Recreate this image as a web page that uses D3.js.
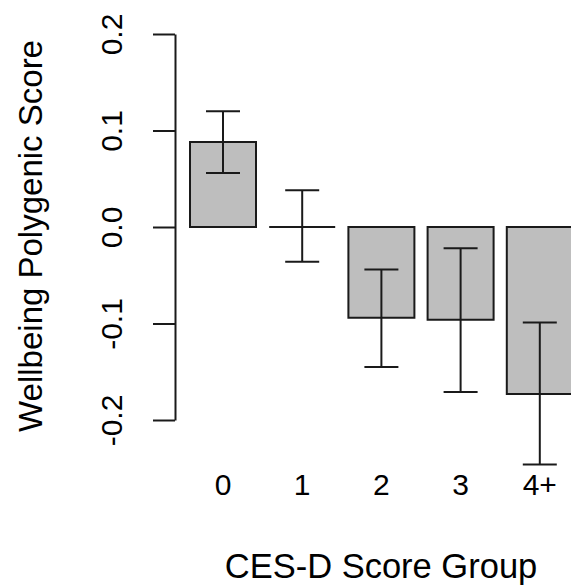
<!DOCTYPE html>
<html>
<head>
<meta charset="utf-8">
<script src="https://cdn.jsdelivr.net/npm/d3@7"></script>
<style>
  html, body { margin: 0; padding: 0; background: #fff; }
  svg { display: block; font-family: "Liberation Sans", Arial, sans-serif; }
</style>
</head>
<body>
<div id="chart"></div>
<script>
// CES-D groups vs wellbeing polygenic score (mean ± error)
const GROUPS = ["0", "1", "2", "3", "4+"];
const MEANS  = [0.088, 0.000, -0.094, -0.096, -0.173];
const LOWER  = [0.056, -0.036, -0.145, -0.171, -0.246];
const UPPER  = [0.120, 0.038, -0.044, -0.022, -0.099];
const Y_TICKS = [-0.2, -0.1, 0.0, 0.1, 0.2];

const data = GROUPS.map((g, i) => ({ group: g, mean: MEANS[i], lo: LOWER[i], hi: UPPER[i] }));

const totalW = 571, totalH = 586;
const INK = "#1a1a1a";

const svg = d3.select("#chart").append("svg")
  .attr("width", totalW).attr("height", totalH);

/* ── Scales ── */
const y = d3.scaleLinear().domain([-0.2, 0.2]).range([420, 34]);
const x = d3.scaleBand().domain(GROUPS)
  .range([190, 572.8]).paddingInner(0.2 / 1.2).paddingOuter(0);

/* ── Bars (path so the zero-height bar still shows as a line) ── */
svg.append("g").selectAll("path")
  .data(data)
  .join("path")
  .attr("d", d => {
    const x0 = x(d.group), x1 = x0 + x.bandwidth();
    const y0 = y(0), y1 = y(d.mean);
    return `M${x0},${y0}H${x1}V${y1}H${x0}Z`;
  })
  .attr("fill", "#bebebe")
  .attr("stroke", INK)
  .attr("stroke-width", 2);

/* ── Error bars ── */
const cap = 17;
const eb = svg.append("g").attr("stroke", INK).attr("stroke-width", 2).attr("fill", "none");
data.forEach(d => {
  const cx = x(d.group) + x.bandwidth() / 2;
  eb.append("line").attr("x1", cx).attr("x2", cx).attr("y1", y(d.lo)).attr("y2", y(d.hi));
  eb.append("line").attr("x1", cx - cap).attr("x2", cx + cap).attr("y1", y(d.lo)).attr("y2", y(d.lo));
  eb.append("line").attr("x1", cx - cap).attr("x2", cx + cap).attr("y1", y(d.hi)).attr("y2", y(d.hi));
});

/* ── Y axis ── */
const yAxis = svg.append("g").attr("transform", "translate(175,0)")
  .call(d3.axisLeft(y).tickValues(Y_TICKS).tickSize(22).tickSizeOuter(0)
    .tickFormat(d3.format(".1f")));
yAxis.select(".domain").attr("stroke", INK).attr("stroke-width", 2);
yAxis.selectAll(".tick line").attr("stroke", INK).attr("stroke-width", 2);
yAxis.selectAll(".tick text")
  .attr("x", null).attr("dy", null)
  .attr("transform", "translate(-53,0) rotate(-90)")
  .attr("text-anchor", "middle")
  .attr("font-size", 30)
  .attr("fill", "#000")
  .text(d => d3.format(".1f")(d).replace("−", "-"));

/* ── X tick labels ── */
svg.append("g").selectAll("text")
  .data(GROUPS)
  .join("text")
  .attr("x", d => x(d) + x.bandwidth() / 2)
  .attr("y", 495)
  .attr("text-anchor", "middle")
  .attr("font-size", 30)
  .attr("fill", "#000")
  .text(d => d);

/* ── Axis titles ── */
svg.append("text")
  .attr("x", 381).attr("y", 578)
  .attr("text-anchor", "middle").attr("font-size", 34.5).attr("fill", "#000")
  .text("CES-D Score Group");

svg.append("text")
  .attr("transform", "translate(42,236) rotate(-90)")
  .attr("text-anchor", "middle").attr("font-size", 33).attr("fill", "#000")
  .text("Wellbeing Polygenic Score");
</script>
</body>
</html>
